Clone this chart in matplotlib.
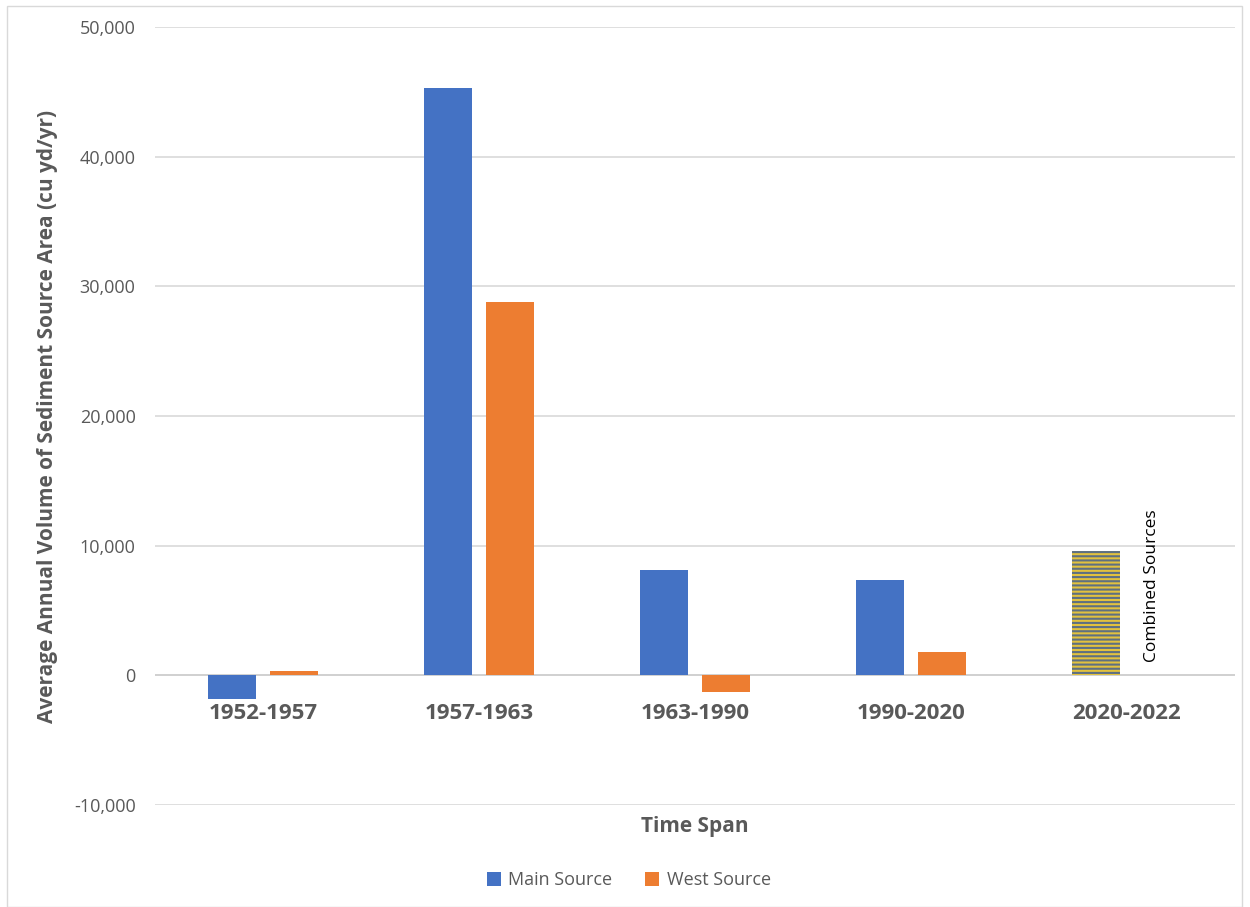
import matplotlib
matplotlib.use("Agg")
import matplotlib.pyplot as plt
import numpy as np
from matplotlib.patches import Rectangle
from matplotlib.ticker import FuncFormatter, MultipleLocator

# Data
periods = ["1952-1957", "1957-1963", "1963-1990", "1990-2020", "2020-2022"]
main_source = [-1800, 45300, 8100, 7350]
west_source = [300, 28800, -1250, 1800]
combined_sources = 9600  # 2020-2022 survey, sources combined

plt.rcParams["font.family"] = ["Open Sans", "DejaVu Sans"]
plt.rcParams["hatch.linewidth"] = 1.5

TEXT = "#595959"
BLUE = "#4472C4"
ORANGE = "#ED7D31"

fig = plt.figure(figsize=(12.5, 9.07), dpi=100)
ax = fig.add_axes([0.124, 0.1125, 0.864, 0.8575])

x = np.arange(len(periods))
w = 0.222
off = 0.144

ax.bar(x[:4] - off, main_source, width=w, color=BLUE, label="Main Source", zorder=3)
ax.bar(x[:4] + off, west_source, width=w, color=ORANGE, label="West Source", zorder=3)
# Striped bar: yellow fill with slate horizontal lines
ax.bar(x[4] - off, combined_sources, width=w, facecolor="#E2C23E",
       edgecolor="#5E7082", linewidth=0, hatch="----", zorder=3)
ax.text(x[4] - off + w / 2 + 0.148, 6950, "Combined Sources",
        rotation=90, ha="center", va="center", fontsize=12.5, color="black")

ax.set_xlim(-0.5, len(periods) - 0.5)
ax.set_ylim(-10000, 50000)
ax.yaxis.set_major_locator(MultipleLocator(10000))
ax.yaxis.set_major_formatter(FuncFormatter(lambda v, p: f"{v:,.0f}"))
ax.grid(axis="y", color="#D9D9D9", linewidth=1.2, zorder=0)
ax.axhline(0, color="#D0D0D0", linewidth=1.3, zorder=2)

for s in ax.spines.values():
    s.set_visible(False)

ax.set_xticks([])
for xi, lab in zip(x, periods):
    ax.text(xi, -2150, lab, ha="center", va="top", fontsize=16,
            fontweight="bold", color=TEXT)

ax.tick_params(axis="y", length=0, labelsize=13, labelcolor=TEXT, pad=14)
ax.set_ylabel("Average Annual Volume of Sediment Source Area (cu yd/yr)",
              fontsize=15, fontweight="bold", color=TEXT)
ax.yaxis.set_label_coords(-0.09, 0.5)
ax.text(0.5, -0.014, "Time Span", transform=ax.transAxes, ha="center", va="top",
        fontsize=15, fontweight="bold", color=TEXT)

leg = fig.legend(handles=ax.patches[:1] + ax.patches[4:5], labels=["Main Source", "West Source"],
                 loc="center", bbox_to_anchor=(0.503, 1 - 880 / 907), ncol=2, frameon=False,
                 fontsize=13, handlelength=0.8, handleheight=0.8, columnspacing=1.8,
                 handletextpad=0.4)
for t in leg.get_texts():
    t.set_color(TEXT)

# Light frame around the chart area
fig.patches.append(Rectangle((7 / 1250, 0.0), 1235 / 1250, 1 - 6 / 907,
                             transform=fig.transFigure, fill=False,
                             edgecolor="#D9D9D9", linewidth=1.0))

fig.savefig("out.png", dpi=100, facecolor="white")
